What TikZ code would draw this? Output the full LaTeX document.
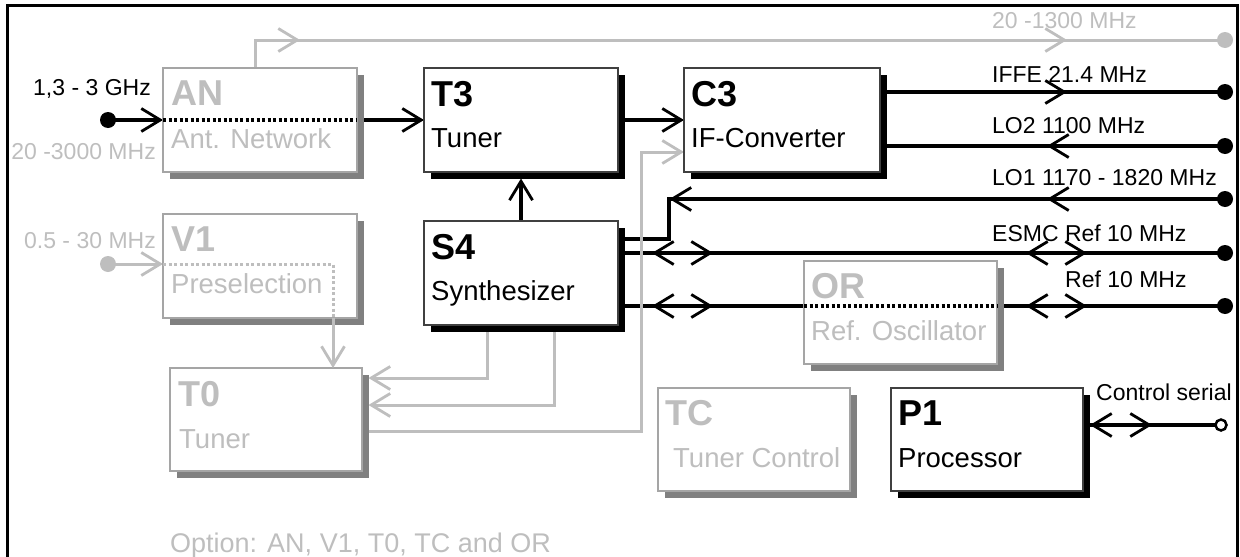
\documentclass[tikz,border=0pt]{standalone}
\usepackage{fontspec}
\setmainfont{Liberation Sans}
\usetikzlibrary{arrows.meta,decorations.markings,shadows}
\definecolor{optgray}{RGB}{190,190,190}
\definecolor{shadgray}{RGB}{128,128,128}
\definecolor{edgegray}{RGB}{165,165,165}
\pgfdeclarelayer{background}
\pgfsetlayers{background,main}
\tikzset{
  chev/.tip={Straight Barb[length=19pt,width=23pt,line width=2.8pt]},
  fwd at/.style={postaction={decorate,decoration={markings,mark=at position #1 with {\arrow{chev}}}}},
  bwd at/.style={postaction={decorate,decoration={markings,mark=at position #1 with {\arrowreversed{chev}}}}},
  bline/.style={line width=4pt,black},
  gline/.style={line width=3pt,optgray},
  bdot/.style={line width=4pt,black,dash pattern=on 3pt off 2.5pt},
  gdot/.style={line width=3pt,optgray,dash pattern=on 3pt off 2.5pt},
  basebox/.style={fill=white,anchor=north west,inner sep=0pt,outer sep=0pt,
    minimum width=194pt,minimum height=104pt},
  bbox/.style={basebox,draw=black!75,line width=1.2pt,
    drop shadow={shadow xshift=6.5pt,shadow yshift=-6.5pt,fill=black,opacity=1}},
  gbox/.style={basebox,draw=edgegray,line width=1.2pt,
    drop shadow={shadow xshift=6.5pt,shadow yshift=-6.5pt,fill=shadgray,opacity=1}},
  hd/.style={anchor=base west,inner sep=0pt,font=\fontsize{36}{40}\selectfont\bfseries},
  sub/.style={anchor=base west,inner sep=0pt,font=\fontsize{27.5}{30}\selectfont},
  lab/.style={anchor=base west,inner sep=0pt,font=\fontsize{23}{26}\selectfont},
  dotb/.style={circle,fill=black,minimum size=16pt,inner sep=0pt},
  dotg/.style={circle,fill=optgray,minimum size=16pt,inner sep=0pt},
}
\begin{document}
\begin{tikzpicture}[x=1pt,y=-1pt]
\useasboundingbox (0,0) rectangle (1240,557);

% boxes
\node[gbox] (AN) at (163,68) {};
\node[bbox] (T3) at (424,68) {};
\node[bbox,minimum width=196pt] (C3) at (684,68) {};
\node[gbox] (V1) at (163,214) {};
\node[bbox] (S4) at (424,221) {};
\node[gbox,minimum width=192pt,minimum height=103pt] (T0) at (170,368) {};
\node[gbox,minimum width=193pt,minimum height=103pt] (OR) at (804,261) {};
\node[gbox,minimum width=192pt,minimum height=103pt] (TC) at (658,388) {};
\node[bbox,minimum width=192pt,minimum height=103pt] (P1) at (891,388) {};

% box texts
\node[hd,text=optgray] (ANh) at ([xshift=8pt,yshift=-37pt]AN.north west) {AN};
\node[sub,text=optgray] (ANs) at ([xshift=8pt,yshift=-80pt]AN.north west) {Ant. Network};
\node[hd] (T3h) at ([xshift=7pt,yshift=-38pt]T3.north west) {T3};
\node[sub] (T3s) at ([xshift=7pt,yshift=-79pt]T3.north west) {Tuner};
\node[hd] (C3h) at ([xshift=7pt,yshift=-38pt]C3.north west) {C3};
\node[sub] (C3s) at ([xshift=7pt,yshift=-79pt]C3.north west) {IF-Converter};
\node[hd,text=optgray] (V1h) at ([xshift=8pt,yshift=-37pt]V1.north west) {V1};
\node[sub,text=optgray] (V1s) at ([xshift=8pt,yshift=-79pt]V1.north west) {Preselection};
\node[hd] (S4h) at ([xshift=7pt,yshift=-38pt]S4.north west) {S4};
\node[sub] (S4s) at ([xshift=7pt,yshift=-79pt]S4.north west) {Synthesizer};
\node[hd,text=optgray] (T0h) at ([xshift=8pt,yshift=-38pt]T0.north west) {T0};
\node[sub,text=optgray] (T0s) at ([xshift=9pt,yshift=-80pt]T0.north west) {Tuner};
\node[hd,text=optgray] (ORh) at ([xshift=7pt,yshift=-37pt]OR.north west) {OR};
\node[sub,text=optgray] (ORs) at ([xshift=7pt,yshift=-79pt]OR.north west) {Ref. Oscillator};
\node[hd,text=optgray] (TCh) at ([xshift=7pt,yshift=-37pt]TC.north west) {TC};
\node[sub,text=optgray] (TCs) at ([xshift=15pt,yshift=-79pt]TC.north west) {Tuner Control};
\node[hd] (P1h) at ([xshift=7pt,yshift=-37pt]P1.north west) {P1};
\node[sub] (P1s) at ([xshift=7pt,yshift=-79pt]P1.north west) {Processor};

% coordinates
\coordinate (dGHz) at (108,120);
\coordinate (dV1) at (108,264);
\coordinate (d20) at (1225,40);
\coordinate (dIF) at (1225,92);
\coordinate (dLO2) at (1225,146);
\coordinate (dLO1) at (1225,199);
\coordinate (dESMC) at (1225,253);
\coordinate (dRef) at (1225,306);
\coordinate (dCtl) at (1221,425);
\coordinate (LO1a) at (669,199);
\coordinate (LO1b) at (669,239);
\coordinate (ANup) at (255,40);
\coordinate (V1c) at (333,264);
\coordinate (gA) at (487,378);
\coordinate (gB) at (554,405);
\coordinate (gC) at (641,431);
\coordinate (gD) at (641,152);
\coordinate (T3sh) at ([yshift=-6.5pt]T3.south);
\coordinate (T0sh) at ([xshift=6.5pt]T0.east);

% connectors behind the boxes
\begin{pgfonlayer}{background}
\draw[bline,-chev] (dGHz) -- (AN.west);
\draw[bline,-chev] (AN.east) -- (T3.west);
\draw[bline,-chev] (T3.east) -- (C3.west);
\draw[bline,-chev] (S4.north) -- (S4.north |- T3sh);
\draw[bline,fwd at=187pt] (C3.east |- dIF) -- (dIF);
\draw[bline,fwd at=178pt] (dLO2) -- (C3.east |- dLO2);
\draw[bline,fwd at=178pt,fwd at=555.5pt] (dLO1) -- (LO1a) -- (LO1b) -- (S4.east |- LO1b);
\draw[bline,bwd at=34pt,fwd at=95pt,bwd at=408pt,fwd at=469pt] (S4.east |- dESMC) -- (dESMC);
\draw[bline,bwd at=34pt,fwd at=95pt] (S4.east |- dRef) -- (OR.west |- dRef);
\draw[bline,bwd at=29pt,fwd at=90pt] (OR.east |- dRef) -- (dRef);
\draw[bline,bwd at=7pt,fwd at=69pt] (P1.east |- dCtl) -- (dCtl);
\draw[gline,fwd at=73pt,fwd at=840pt] (ANup |- AN.north) -- (ANup) -- (d20);
\draw[gline,-chev] (dV1) -- (V1.west |- dV1);
\draw[gline,-chev] (gA |- S4.south) -- (gA) -- (T0sh |- gA);
\draw[gline,-chev] (gB |- S4.south) -- (gB) -- (T0sh |- gB);
\draw[gline,-chev] (T0.east |- gC) -- (gC) -- (gD) -- (C3.west |- gD);
\end{pgfonlayer}

% connectors over the boxes
\draw[bdot] (AN.west) -- (AN.east);
\draw[bdot] (OR.west |- dRef) -- (OR.east |- dRef);
\draw[gdot] (V1.west |- dV1) -- (V1c) -- (V1c |- V1.south);
\draw[gline,-chev] (V1c |- V1.south) -- (V1c |- T0.north);

% terminals
\node[dotb] (nGHz) at (dGHz) {};
\node[dotg] (nV1) at (dV1) {};
\node[dotg] (n20) at (d20) {};
\node[dotb] (nIF) at (dIF) {};
\node[dotb] (nLO2) at (dLO2) {};
\node[dotb] (nLO1) at (dLO1) {};
\node[dotb] (nESMC) at (dESMC) {};
\node[dotb] (nRef) at (dRef) {};
\node[circle,draw=black,line width=2.5pt,fill=white,minimum size=11pt,inner sep=0pt] (nCtl) at (dCtl) {};

% labels
\node[lab] (lGHz) at (33,95) {1,3 - 3 GHz};
\node[lab,text=optgray,anchor=base east] (l3000) at (156,159) {20 -3000 MHz};
\node[lab,text=optgray,anchor=base east] (l30) at (156,248) {0.5 - 30 MHz};
\node[lab,text=optgray] (l1300) at (992,28) {20 -1300 MHz};
\node[lab] (lIF) at (992,82) {IFFE 21.4 MHz};
\node[lab] (lLO2) at (992,133) {LO2 1100 MHz};
\node[lab] (lLO1) at (992,185) {LO1 1170 - 1820 MHz};
\node[lab] (lESMC) at (992,241) {ESMC Ref 10 MHz};
\node[lab] (lRef) at (1065,287) {Ref 10 MHz};
\node[lab] (lCtl) at (1096,400) {Control serial};
\node[anchor=base west,inner sep=0pt,font=\fontsize{27}{30}\selectfont,text=optgray] (opt) at (170,552) {Option: AN, V1, T0, TC and OR};

% frame
\draw[line width=3pt] (7,570) -- (7,5) -- (1237,5) -- (1237,570);
\end{tikzpicture}
\end{document}
